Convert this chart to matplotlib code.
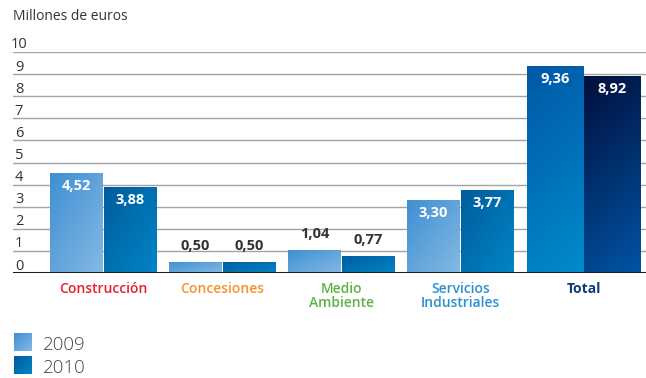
import numpy as np
import matplotlib
matplotlib.use("Agg")
import matplotlib.pyplot as plt
from matplotlib.colors import LinearSegmentedColormap
from matplotlib.patches import Rectangle

plt.rcParams['font.family'] = ['Open Sans', 'DejaVu Sans']

# Data
categories = ["Construcción", "Concesiones", "Medio\nAmbiente", "Servicios\nIndustriales", "Total"]
cat_colors = ["#e4202e", "#f6922e", "#5cb247", "#2b8fd2", "#0d3a7c"]
values_2009 = [4.52, 0.50, 1.04, 3.30, 9.36]
values_2010 = [3.88, 0.50, 0.77, 3.77, 8.92]
years = ["2009", "2010"]
yticks = list(range(0, 11))

# Layout (group centres in axis units)
centers = np.array([0.0, 1.0, 2.0, 3.0, 4.034])
widths = np.array([0.445, 0.445, 0.445, 0.445, 0.474])

W, H = 646, 378
fig = plt.figure(figsize=(W / 100, H / 100), dpi=100)
ax = fig.add_axes([13 / W, 105 / H, (W - 13) / W, 221 / H])
ax.set_xlim(-0.7605, 4.559)
ax.set_ylim(0, 10)
ax.axis('off')

# Gridlines
for v in yticks[1:]:
    ax.axhline(v, color="#a3a3a3", lw=1.0, zorder=1)
ax.axhline(0, color="#1e1e1e", lw=2.2, zorder=5)

def fmt(v):
    return f"{v:.2f}".replace(".", ",")

# gradients: (top-left colour, bottom-right colour)
grad_2009 = ("#3f8fd3", "#84b9e4")
grad_2010 = ("#005c9c", "#0085c6")
grad_t09 = ("#0058a6", "#008bcd")
grad_t10 = ("#000f3c", "#0054a4")

def grad_bar(x0, w, h, cols, diag=1.0):
    cmap = LinearSegmentedColormap.from_list("g", list(cols))
    nx, ny = 60, 200
    xx, yy = np.meshgrid(np.linspace(0, 1, nx), np.linspace(1, 0, ny))
    t = (diag * xx + (1 - yy)) / (1 + diag)
    im = ax.imshow(t, cmap=cmap, extent=[x0, x0 + w, 0, h], aspect='auto',
                   origin='upper', zorder=2, interpolation='bilinear')
    rect = Rectangle((x0, 0), w, h, facecolor='none', edgecolor='none', zorder=2)
    ax.add_patch(rect)
    im.set_clip_path(rect)

for i, (c, w) in enumerate(zip(centers, widths)):
    last = i == len(centers) - 1
    g1 = grad_t09 if last else grad_2009
    g2 = grad_t10 if last else grad_2010
    d = 0.25 if last else 1.0
    gap = 0.004
    grad_bar(c - w - gap, w, values_2009[i], g1, d)
    grad_bar(c + gap, w, values_2010[i], g2, d)
    for xc, v in ((c - w / 2 - gap, values_2009[i]), (c + w / 2 + gap, values_2010[i])):
        if v > 2:
            ax.annotate(fmt(v), (xc, v), xytext=(0, -13), textcoords='offset pixels',
                        ha='center', va='center', color='white', fontsize=10.5,
                        fontweight='bold', zorder=6)
        else:
            ax.annotate(fmt(v), (xc, v), xytext=(0, 16), textcoords='offset pixels',
                        ha='center', va='center', color='#333333', fontsize=10.5,
                        fontweight='bold', zorder=6)
    ax.annotate(categories[i], (c, 0), xytext=(0, -9), textcoords='offset pixels',
                ha='center', va='top', color=cat_colors[i], fontsize=10,
                fontweight='bold' if last else 'semibold', linespacing=1.0,
                annotation_clip=False)

# y tick labels sitting above each gridline
for v in yticks:
    ax.annotate(str(v), (0, v), xycoords=('axes fraction', 'data'),
                xytext=(6, 7), textcoords='offset pixels', ha='center', va='center',
                fontsize=10.5, color="#333333", annotation_clip=False)

fig.text(13 / W, 1 - 17 / H, "Millones de euros", ha='left', va='center',
         fontsize=10, color="#333333")

# Legend
leg_cols = [grad_2009, grad_2010]
for k, (yr, cols) in enumerate(zip(years, leg_cols)):
    top = 333 + k * 23
    fax = fig.add_axes([14 / W, 1 - (top + 18) / H, 18 / W, 18 / H])
    fax.axis('off')
    cmap = LinearSegmentedColormap.from_list("l", list(cols))
    xx, yy = np.meshgrid(np.linspace(0, 1, 20), np.linspace(0, 1, 20))
    fax.imshow((xx + yy) / 2, cmap=cmap, aspect='auto', interpolation='bilinear')
    fig.text(43 / W, 1 - (top + 17) / H, yr, ha='left', va='baseline',
             fontsize=13.5, color="#444444", fontweight='light')

fig.savefig("out.png", dpi=100)
